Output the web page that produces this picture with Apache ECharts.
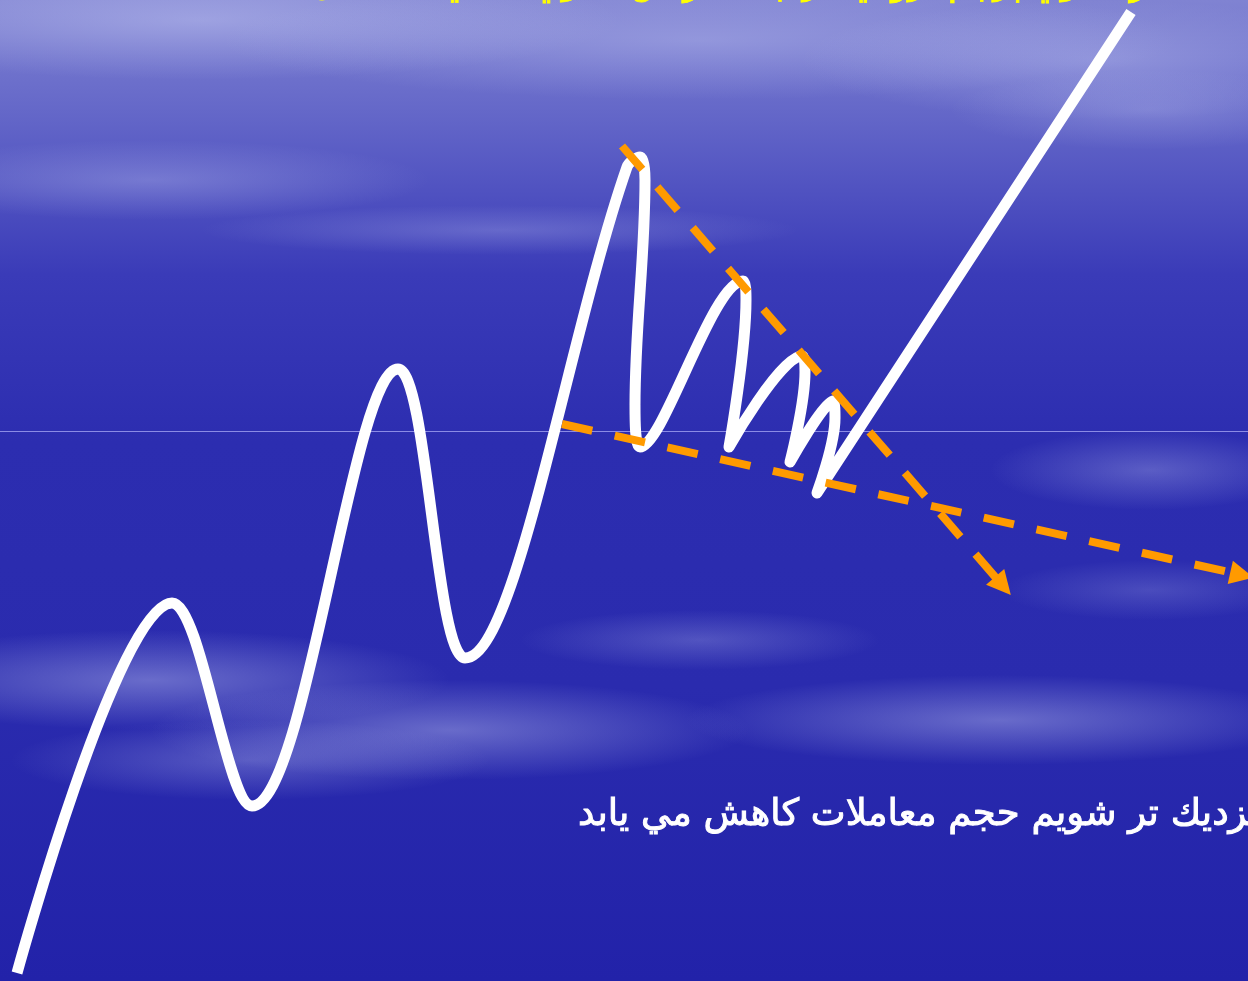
<!DOCTYPE html>
<html>
<head>
<meta charset="utf-8">
<script src="https://cdn.jsdelivr.net/npm/echarts@6/dist/echarts.min.js"></script>
<style>
  html, body { margin: 0; padding: 0; background: #2c2cb0; }
  #chart { width: 1248px; height: 981px; }
</style>
</head>
<body>
<div id="chart"></div>
<script>
// price path: turning points of the white zigzag (x, y in screen units, y down)
const pricePath = [
  [17, 973], [172, 603], [252, 806], [398, 369], [465, 658],
  [627, 167], [640, 157], [645, 180], [635, 405], [640, 447],
  [743, 281], [746, 300], [729, 447],
  [802, 356], [805, 372], [790, 462],
  [833, 401], [835, 418], [817, 493],
  [1131, 12]
]
// orange trend lines (start, end)
const upperTrend = [[622, 146], [1003, 586]]
const lowerTrend = [[562, 424], [1242, 575]]

const titleText = 'در الگوي پرچم نزولي هر چه به راس الگوي مثلثي شكل آن'
const noteText = 'نزديك تر شويم حجم معاملات كاهش مي يابد'

// soft cloud blobs: [cx, cy, r, scaleX, alpha]
const clouds = [
  [200, 20, 60, 7, 0.45], [700, 40, 60, 8, 0.35], [1100, 60, 60, 5, 0.35],
  [150, 180, 40, 7, 0.30], [500, 230, 25, 12, 0.25], [1150, 110, 40, 5, 0.25],
  [150, 680, 50, 6, 0.40], [450, 730, 50, 6, 0.40], [250, 760, 40, 6, 0.30],
  [1000, 720, 45, 7, 0.40], [1150, 470, 40, 4, 0.30], [1150, 590, 30, 5, 0.20],
  [700, 640, 30, 6, 0.25]
]

const chart = echarts.init(document.getElementById('chart'))

const cloudGraphics = clouds.map(c => ({
  type: 'circle',
  x: c[0], y: c[1], scaleX: c[3], scaleY: 1,
  shape: { cx: 0, cy: 0, r: c[2] },
  style: {
    fill: {
      type: 'radial', x: 0.5, y: 0.5, r: 0.5,
      colorStops: [
        { offset: 0, color: 'rgba(200,205,245,' + c[4] + ')' },
        { offset: 1, color: 'rgba(200,205,245,0)' }
      ]
    }
  },
  z: -10, silent: true
}))

const option = {
  animation: false,
  backgroundColor: {
    type: 'linear', x: 0, y: 0, x2: 0, y2: 1,
    colorStops: [
      { offset: 0, color: '#8083d2' },
      { offset: 0.12, color: '#6366c8' },
      { offset: 0.28, color: '#3a3bb8' },
      { offset: 0.45, color: '#2c2db0' },
      { offset: 0.7, color: '#2a2bae' },
      { offset: 1, color: '#2222a9' }
    ]
  },
  grid: { left: 0, right: 0, top: 0, bottom: 0 },
  xAxis: { type: 'value', min: 0, max: 1248, show: false },
  yAxis: { type: 'value', min: 0, max: 981, inverse: true, show: false },
  graphic: [
    ...cloudGraphics,
    {
      type: 'line', z: -5, silent: true,
      shape: { x1: 0, y1: 431.5, x2: 1248, y2: 431.5 },
      style: { stroke: 'rgba(150,150,235,0.9)', lineWidth: 1 }
    },
    {
      type: 'text', x: 736, y: -15, z: 10,
      style: {
        text: titleText, align: 'center', verticalAlign: 'middle',
        fill: '#ffff00', stroke: '#ffff00', lineWidth: 0.8,
        font: '35px "DejaVu Sans"'
      }
    },
    {
      type: 'text', x: 578, y: 815, z: 10,
      style: {
        text: noteText, align: 'left', verticalAlign: 'middle',
        fill: '#ffffff', stroke: '#ffffff', lineWidth: 1,
        font: '37px "DejaVu Sans"'
      }
    }
  ],
  series: [
    {
      type: 'line',
      data: pricePath,
      smooth: 0.35,
      showSymbol: false,
      z: 3,
      lineStyle: { color: '#ffffff', width: 11, cap: 'butt', join: 'round' }
    },
    {
      type: 'lines',
      coordinateSystem: 'cartesian2d',
      z: 4,
      symbol: ['none', 'triangle'],
      symbolSize: 24,
      lineStyle: { color: '#ff9a00', width: 8, type: [31, 23], opacity: 1, curveness: 0 },
      data: [{ coords: upperTrend }, { coords: lowerTrend }]
    }
  ]
}
chart.setOption(option)
</script>
</body>
</html>
